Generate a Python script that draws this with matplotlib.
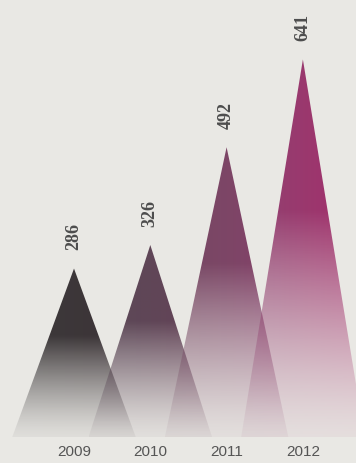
import numpy as np
import matplotlib
matplotlib.use("Agg")
import matplotlib.pyplot as plt
from matplotlib.patches import Polygon
from matplotlib.colors import to_rgb

years = ["2009", "2010", "2011", "2012"]
values = [286, 326, 492, 641]

left_colors = ["#3c3a3b", "#5a4a57", "#744b63", "#8f4471"]
right_colors = ["#3d3337", "#664257", "#86406a", "#a52d6b"]

BG = "#e9e8e4"
W, H = 356, 463
fig = plt.figure(figsize=(W / 100, H / 100), dpi=100, facecolor=BG)
base_px = 437
ax = fig.add_axes([0, (H - base_px) / H, 1, base_px / H])
ax.set_facecolor(BG)
spacing = 76.3
x0 = 74
scale = 0.589
ax.axis("off")

hw = 0.809
ny, nx = 300, 120
t = np.linspace(0, 1, ny)[:, None]  # 0 at base, 1 at apex
s = np.linspace(0, 1, nx)[None, :]
alpha = np.clip(t / 0.6, 0, 1)
alpha = 0.06 + 0.94 * (alpha ** 1.3)

for i, v in enumerate(values):
    lc = np.array(to_rgb(left_colors[i]))
    rc = np.array(to_rgb(right_colors[i]))
    rgb = lc[None, None, :] * (1 - s[..., None]) + rc[None, None, :] * s[..., None]
    rgb = np.broadcast_to(rgb, (ny, nx, 3))
    img = np.concatenate([rgb, np.broadcast_to(alpha[..., None], (ny, nx, 1))], axis=2)
    tri = Polygon([(i - hw, 0), (i, v), (i + hw, 0)], closed=True,
                  transform=ax.transData, facecolor="none", edgecolor="none")
    ax.add_patch(tri)
    im = ax.imshow(img, extent=(i - hw, i + hw, 0, v), origin="lower",
                   aspect="auto", interpolation="bilinear", zorder=2 + i)
    im.set_clip_path(tri)
    ax.annotate(str(v), xy=(i, v), xytext=(0, 13), textcoords="offset points",
                rotation=90, ha="center", va="bottom", fontsize=13,
                fontweight="bold", family="Liberation Serif", color="#4d4d4d",
                zorder=10)
    ax.annotate(years[i], xy=(i, 0), xytext=(0, -10.6), textcoords="offset points",
                ha="center", va="center", fontsize=11, family="Liberation Sans",
                color="#555555", annotation_clip=False, zorder=10)

ax.set_xlim(-x0 / spacing, (W - x0) / spacing)
ax.set_ylim(0, base_px / scale)
fig.savefig("out.png", dpi=100, facecolor=BG)
